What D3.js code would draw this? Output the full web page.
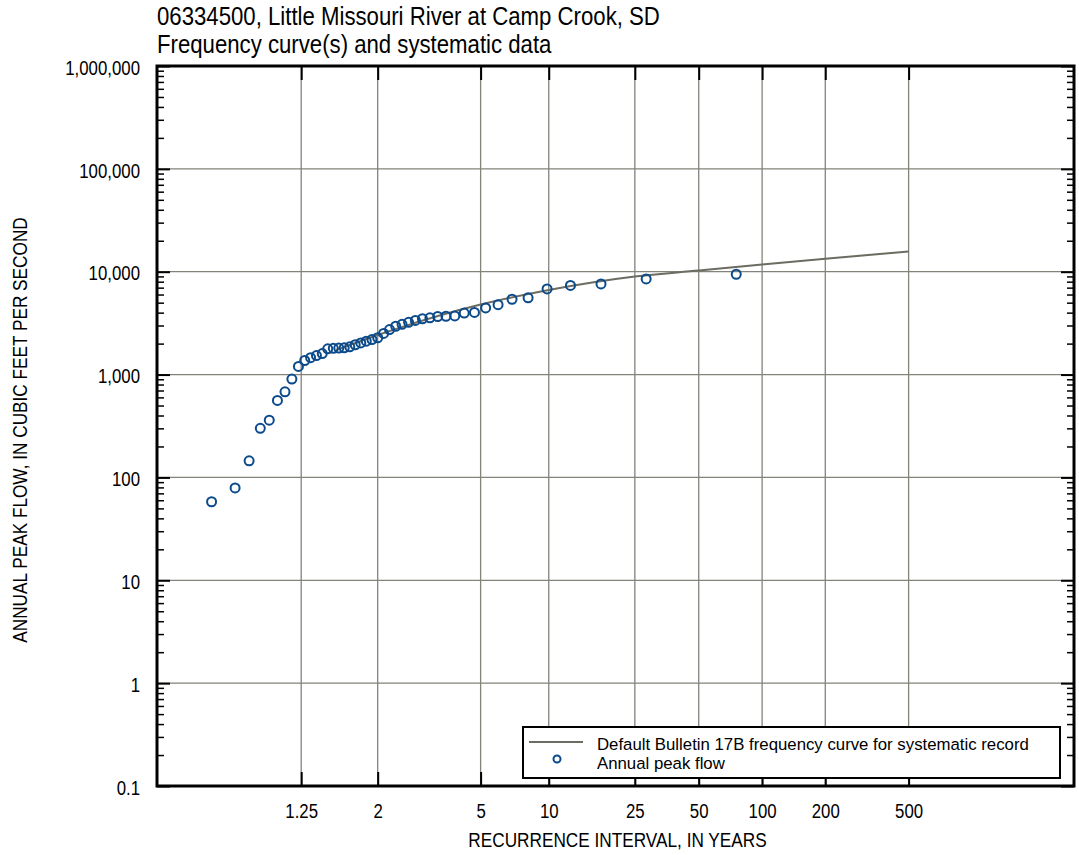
<!DOCTYPE html>
<html><head><meta charset="utf-8">
<script src="https://cdn.jsdelivr.net/npm/d3@7"></script>
<style>
body{margin:0;background:#fff;}
svg text{fill:#000;}
</style></head><body>
<svg id="chart" width="1079" height="855"></svg>
<script>
// ---------- data ----------
const titleLines = ["06334500, Little Missouri River at Camp Crook, SD", "Frequency curve(s) and systematic data"];
const xTitle = "RECURRENCE INTERVAL, IN YEARS";
const yTitle = "ANNUAL PEAK FLOW, IN CUBIC FEET PER SECOND";
const xTickValues = [1.25, 2, 5, 10, 25, 50, 100, 200, 500];
const xTickLabels = ["1.25", "2", "5", "10", "25", "50", "100", "200", "500"];
const yTickValues = [0.1, 1, 10, 100, 1000, 10000, 100000, 1000000];
const yTickLabels = ["0.1", "1", "10", "100", "1,000", "10,000", "100,000", "1,000,000"];
const peakRecurrence = [75.33, 28.25, 17.38, 12.56, 9.826, 8.071, 6.848, 5.947, 5.256, 4.708,
  4.264, 3.897, 3.587, 3.324, 3.096, 2.897, 2.723, 2.568, 2.430, 2.306,
  2.194, 2.093, 2.000, 1.915, 1.837, 1.766, 1.699, 1.638, 1.580, 1.527,
  1.477, 1.430, 1.387, 1.345, 1.306, 1.270, 1.235, 1.202, 1.171, 1.141,
  1.113, 1.087, 1.061, 1.037, 1.0135];
const peakFlow = [9450, 8500, 7600, 7350, 6800, 5570, 5400, 4780, 4440, 4020,
  3960, 3720, 3690, 3670, 3560, 3490, 3360, 3220, 3080, 2950,
  2740, 2510, 2280, 2190, 2110, 2030, 1950, 1860, 1820, 1810,
  1800, 1780, 1600, 1530, 1460, 1370, 1200, 905, 680, 560,
  360, 300, 145, 79, 58];
const curveRecurrence = [1.5, 2, 2.33, 5, 10, 25, 50, 100, 200, 500];
const curveFlow = [1730, 2425, 2800, 4800, 6640, 8980, 10270, 11750, 13380, 15720];
const legendLabels = ["Default Bulletin 17B frequency curve for systematic record", "Annual peak flow"];

// ---------- fonts ----------
const family = '"Liberation Sans", Arial, sans-serif';
const sz = { tick: 20.5, axis: 21, legend: 16.8, title: 25.5 };

// ---------- layout ----------
const L = 157, R = 1074, T = 66, B = 786;
const gridColor = "#83837a", curveColor = "#6c6c62", pointColor = "#0b4a8b";

const svg = d3.select("#chart").style("font-family", family);

// Gumbel (extreme value) probability scale for recurrence interval
const reduced = t => -Math.log(-Math.log(1 - 1 / t));
const lin = d3.scaleLinear().domain([-2.064, 8.035]).range([L, R]);
function xs(t) { return lin(reduced(t)); }
xs.copy = () => xs;
xs.range = () => [L, R];
xs.domain = () => [lin.invert(L), lin.invert(R)];

const y = d3.scaleLog().domain([0.1, 1e6]).range([B, T]);

const yMinor = [];
for (let e = -1; e < 6; e++) for (let k = 2; k <= 9; k++) yMinor.push(k * Math.pow(10, e));

// ---------- grid ----------
const grid = svg.append("g");
grid.selectAll("line.v").data(xTickValues).join("line")
  .attr("x1", d => xs(d)).attr("x2", d => xs(d)).attr("y1", T).attr("y2", B)
  .attr("stroke", gridColor).attr("stroke-width", 1.3);
grid.selectAll("line.h").data(yTickValues.slice(1, -1)).join("line")
  .attr("x1", L).attr("x2", R).attr("y1", d => y(d)).attr("y2", d => y(d))
  .attr("stroke", gridColor).attr("stroke-width", 1.3);

// ---------- frequency curve ----------
const curveData = curveRecurrence.map((t, i) => [t, curveFlow[i]]);
svg.append("path").datum(curveData)
  .attr("fill", "none").attr("stroke", curveColor).attr("stroke-width", 2)
  .attr("d", d3.line().x(d => xs(d[0])).y(d => y(d[1])).curve(d3.curveMonotoneX));

// ---------- points ----------
const pts = peakRecurrence.map((t, i) => [t, peakFlow[i]]);
svg.append("g").selectAll("circle").data(pts).join("circle")
  .attr("cx", d => xs(d[0])).attr("cy", d => y(d[1])).attr("r", 4.5)
  .attr("fill", "none").attr("stroke", pointColor).attr("stroke-width", 2);

// ---------- axes ----------
function styleAxis(g, w) {
  g.select(".domain").remove();
  g.selectAll(".tick line").attr("stroke", "#000").attr("stroke-width", w);
  g.attr("font-family", null);
}
svg.append("g").attr("transform", `translate(0,${B})`)
  .call(d3.axisBottom(xs).tickValues(xTickValues).tickFormat((d, i) => xTickLabels[i])
    .tickSizeInner(-14).tickSizeOuter(0).tickPadding(17))
  .call(g => styleAxis(g, 2))
  .call(g => g.selectAll("text").attr("font-size", sz.tick).attr("data-sq", 0.82));
svg.append("g").attr("transform", `translate(0,${T})`)
  .call(d3.axisTop(xs).tickValues(xTickValues).tickFormat("").tickSizeInner(-14).tickSizeOuter(0))
  .call(g => styleAxis(g, 2));
svg.append("g").attr("transform", `translate(${L},0)`)
  .call(d3.axisLeft(y).tickValues(yTickValues).tickFormat((d, i) => yTickLabels[i])
    .tickSizeInner(-13).tickSizeOuter(0).tickPadding(17))
  .call(g => styleAxis(g, 2))
  .call(g => g.selectAll("text").attr("font-size", sz.tick).attr("dy", "0.4em").attr("data-sq", 0.82));
svg.append("g").attr("transform", `translate(${L},0)`)
  .call(d3.axisLeft(y).tickValues(yMinor).tickFormat("").tickSizeInner(-7).tickSizeOuter(0))
  .call(g => styleAxis(g, 1.5));
svg.append("g").attr("transform", `translate(${R},0)`)
  .call(d3.axisRight(y).tickValues(yTickValues).tickFormat("").tickSizeInner(-13).tickSizeOuter(0))
  .call(g => styleAxis(g, 2));
svg.append("g").attr("transform", `translate(${R},0)`)
  .call(d3.axisRight(y).tickValues(yMinor).tickFormat("").tickSizeInner(-7).tickSizeOuter(0))
  .call(g => styleAxis(g, 1.5));

svg.append("rect").attr("x", L).attr("y", T).attr("width", R - L).attr("height", B - T)
  .attr("fill", "none").attr("stroke", "#000").attr("stroke-width", 3);

// ---------- legend ----------
const lg = svg.append("g");
lg.append("rect").attr("x", 523).attr("y", 727).attr("width", 537).attr("height", 51)
  .attr("fill", "#fff").attr("stroke", "#000").attr("stroke-width", 2);
lg.append("line").attr("x1", 529).attr("x2", 583).attr("y1", 742).attr("y2", 742)
  .attr("stroke", curveColor).attr("stroke-width", 2);
lg.append("circle").attr("cx", 557).attr("cy", 759).attr("r", 3.5)
  .attr("fill", "none").attr("stroke", pointColor).attr("stroke-width", 2);
lg.selectAll("text").data(legendLabels).join("text")
  .attr("x", 597).attr("y", (d, i) => 750 + i * 19).attr("font-size", sz.legend).text(d => d);

// ---------- titles ----------
svg.selectAll("text.title").data(titleLines).join("text").attr("class", "title")
  .attr("x", 157).attr("y", (d, i) => 25 + i * 28).attr("font-size", sz.title)
  .attr("data-sq", 0.87).text(d => d);
svg.append("text").attr("x", (L + R) / 2 + 2).attr("y", 847).attr("data-sq", 0.82)
  .attr("text-anchor", "middle").attr("font-size", sz.axis).text(xTitle);
svg.append("text").attr("transform", `translate(27,${(T + B) / 2 + 4}) rotate(-90)`).attr("data-sq", 0.82)
  .attr("text-anchor", "middle").attr("font-size", sz.axis).text(yTitle);

// condense texts horizontally about their anchor point (narrow sans look)
svg.selectAll("text[data-sq]").each(function () {
  const s = +this.getAttribute("data-sq");
  const ax = +this.getAttribute("x") || 0;
  const prev = this.getAttribute("transform") || "";
  this.setAttribute("transform", `${prev} translate(${ax},0) scale(${s},1) translate(${-ax},0)`.trim());
});
</script>
</body></html>
